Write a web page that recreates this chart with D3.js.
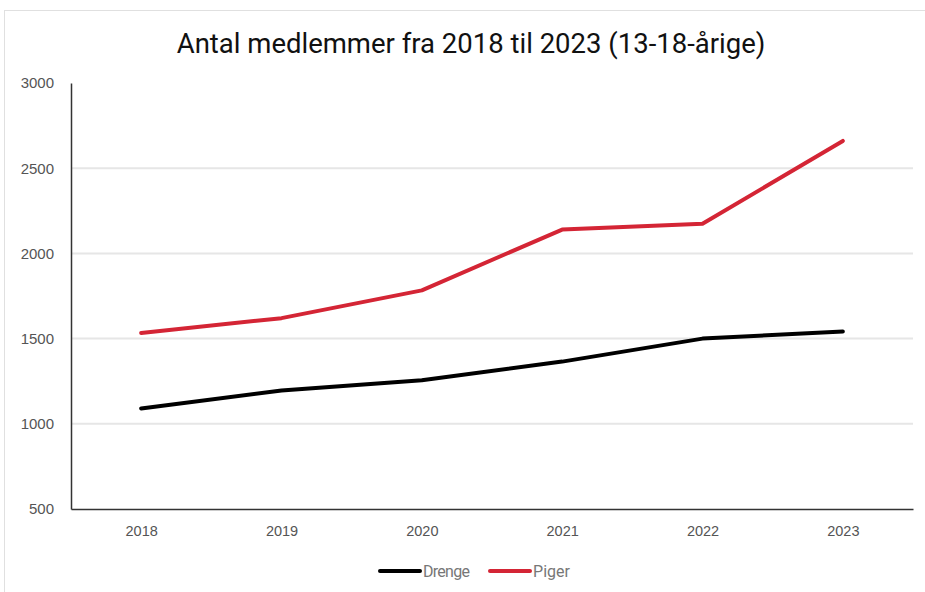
<!DOCTYPE html>
<html>
<head>
<meta charset="utf-8">
<script src="https://cdn.jsdelivr.net/npm/d3@7"></script>
<style>
  body { margin: 0; background: #fff; }
  svg { display: block; }
</style>
</head>
<body>
<div id="chart"></div>
<script>
// data
const years = ["2018", "2019", "2020", "2021", "2022", "2023"];
const drenge = [1090, 1195, 1255, 1365, 1500, 1542];
const piger = [1533, 1620, 1783, 2140, 2174, 2660];
const yTicks = [500, 1000, 1500, 2000, 2500, 3000];
const seriesNames = ["Drenge", "Piger"];
const seriesColors = ["#000000", "#d42535"];

const W = 925, H = 592;
const margin = {top: 83, right: 12, bottom: 83, left: 71};
const width = W - margin.left - margin.right;
const height = H - margin.top - margin.bottom;

const svg = d3.select("#chart").append("svg")
    .attr("width", W).attr("height", H);

// outer frame of the original chart box
svg.append("rect")
    .attr("x", 4.5).attr("y", 10.5).attr("width", 1000).attr("height", 1000)
    .attr("fill", "none").attr("stroke", "#e0e0e0");

svg.append("text")
    .attr("x", 471).attr("y", 53)
    .attr("text-anchor", "middle")
    .attr("font-family", "Roboto, sans-serif")
    .attr("font-size", 27.5)
    .attr("fill", "#111")
    .text("Antal medlemmer fra 2018 til 2023 (13-18-årige)");

const g = svg.append("g").attr("transform", `translate(${margin.left},${margin.top})`);

const x = d3.scalePoint().domain(years).range([0, width]).padding(0.5);
const y = d3.scaleLinear().domain([500, 3000]).range([height, 0]);

// gridlines
g.append("g")
    .selectAll("line")
    .data(yTicks.filter(d => d > 500 && d < 3000))
    .join("line")
    .attr("x1", 0).attr("x2", width)
    .attr("y1", d => y(d)).attr("y2", d => y(d))
    .attr("stroke", "#e6e6e6").attr("stroke-width", 2);

// y axis
const yAxis = g.append("g")
    .call(d3.axisLeft(y).tickValues(yTicks).tickFormat(d3.format("d")).tickSize(0).tickPadding(17));
yAxis.select(".domain").attr("stroke", "#333").attr("stroke-width", 1.5);
yAxis.selectAll("text")
    .attr("font-family", "Liberation Sans, Arial, sans-serif")
    .attr("font-size", 15).attr("fill", "#555");

// x axis
const xAxis = g.append("g")
    .attr("transform", `translate(0,${height})`)
    .call(d3.axisBottom(x).tickSize(0).tickPadding(17));
xAxis.select(".domain").attr("stroke", "#333").attr("stroke-width", 1.5);
xAxis.selectAll("text")
    .attr("font-family", "Liberation Sans, Arial, sans-serif")
    .attr("font-size", 14.5).attr("fill", "#555");

const line = d3.line()
    .x((d, i) => x(years[i]))
    .y(d => y(d));

[drenge, piger].forEach((vals, i) => {
    g.append("path")
        .datum(vals)
        .attr("d", line)
        .attr("fill", "none")
        .attr("stroke", seriesColors[i])
        .attr("stroke-width", 4)
        .attr("stroke-linecap", "round")
        .attr("stroke-linejoin", "round");
});

// legend
const legendPos = [380, 490];
const legend = svg.append("g");
seriesNames.forEach((name, i) => {
    const lg = legend.append("g").attr("transform", `translate(${legendPos[i]},571)`);
    lg.append("line")
        .attr("x1", 0).attr("x2", 40).attr("y1", 0).attr("y2", 0)
        .attr("stroke", seriesColors[i]).attr("stroke-width", 4)
        .attr("stroke-linecap", "round");
    lg.append("text")
        .attr("x", 43).attr("y", 5.5)
        .attr("font-family", "Roboto, sans-serif")
        .attr("font-size", 16).attr("fill", "#777")
        .attr("textLength", name === "Drenge" ? 47 : 37)
        .text(name);
});
</script>
</body>
</html>
